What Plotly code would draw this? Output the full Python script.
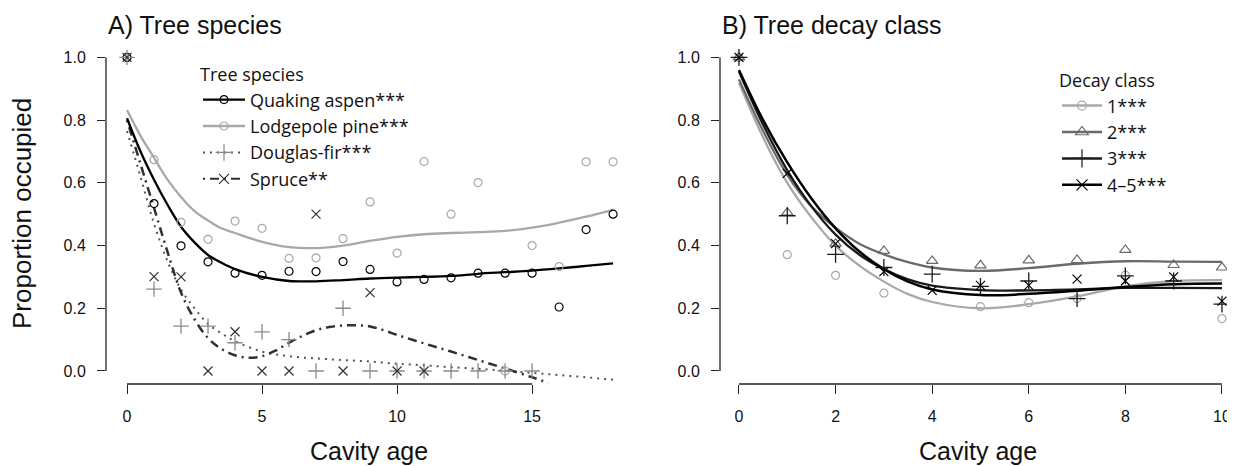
import plotly.graph_objects as go

# page shows the figure with an 8px body margin: size figure so it fills the window
OFF = 8
W, H = 1235 - OFF, 466 - OFF

# ---------------- Panel A data (tree species) ----------------
age_a = list(range(0, 19))
aspen_pts = [1.0, 0.534, 0.399, 0.348, 0.312, 0.305, 0.318, 0.317, 0.349, 0.324,
             0.284, 0.292, 0.297, 0.312, 0.312, 0.312, 0.204, 0.451, 0.500]
pine_pts = [1.0, 0.674, 0.474, 0.420, 0.478, 0.455, 0.359, 0.361, 0.422, 0.539,
            0.376, 0.668, 0.500, 0.601, 0.0, 0.400, 0.333, 0.667, 0.667]
fir_age = [0, 1, 2, 3, 4, 5, 6, 7, 8, 9, 10, 11, 12, 13, 14, 15]
fir_pts = [1.0, 0.261, 0.143, 0.143, 0.09, 0.125, 0.100, 0.0, 0.200, 0.0,
           0.0, 0.0, 0.0, 0.0, 0.0, 0.0]
spruce_age = [0, 1, 2, 3, 4, 5, 6, 7, 8, 9, 10, 11]
spruce_pts = [1.0, 0.301, 0.300, 0.0, 0.125, 0.0, 0.0, 0.500, 0.0, 0.250, 0.0, 0.0]

curve_age_a = [0, 0.5, 1, 1.5, 2, 2.5, 3, 3.5, 4, 5, 6, 7, 8, 9, 10, 11, 12, 13, 14, 15, 16, 17, 18]
aspen_fit = [0.806, 0.70, 0.61, 0.53, 0.46, 0.41, 0.37, 0.345, 0.325, 0.300, 0.287, 0.286,
             0.290, 0.295, 0.298, 0.300, 0.303, 0.310, 0.315, 0.320, 0.327, 0.335, 0.343]
pine_fit = [0.832, 0.75, 0.68, 0.61, 0.555, 0.51, 0.48, 0.455, 0.44, 0.412, 0.395, 0.392,
            0.400, 0.415, 0.428, 0.436, 0.440, 0.443, 0.447, 0.457, 0.473, 0.492, 0.514]
fir_fit = [0.765, 0.62, 0.47, 0.35, 0.26, 0.20, 0.15, 0.12, 0.095, 0.062, 0.047, 0.040,
           0.035, 0.030, 0.023, 0.018, 0.012, 0.007, 0.001, -0.006, -0.013, -0.020, -0.028]
spruce_fit_age = [0, 0.5, 1, 1.5, 2, 2.5, 3, 3.5, 4, 4.5, 5, 5.5, 6, 6.5, 7, 7.5, 8, 8.5,
                  9, 9.5, 10, 11, 12, 13, 14, 15, 15.6]
spruce_fit = [0.80, 0.66, 0.52, 0.38, 0.25, 0.165, 0.105, 0.07, 0.05, 0.042, 0.047, 0.065,
              0.09, 0.112, 0.130, 0.140, 0.145, 0.146, 0.142, 0.130, 0.115, 0.088, 0.062,
              0.035, 0.008, -0.020, -0.038]

# ---------------- Panel B data (decay class) ----------------
age_b = list(range(0, 11))
dc1_age = [0, 1, 2, 3, 5, 6, 7, 8, 10]
dc1_pts = [1.0, 0.371, 0.305, 0.248, 0.205, 0.218, 0.231, 0.306, 0.167]
dc2_pts = [1.0, 0.505, 0.406, 0.383, 0.351, 0.337, 0.353, 0.354, 0.386, 0.338, 0.330]
dc3_pts = [1.0, 0.495, 0.372, 0.330, 0.309, 0.270, 0.287, 0.231, 0.303, 0.287, 0.213]
dc45_pts = [1.0, 0.630, 0.406, 0.317, 0.257, 0.273, 0.273, 0.293, 0.287, 0.300, 0.223]

curve_age_b = [0, 0.5, 1, 1.5, 2, 2.5, 3, 3.5, 4, 5, 6, 7, 8, 9, 10]
dc1_fit = [0.92, 0.745, 0.60, 0.49, 0.40, 0.335, 0.285, 0.245, 0.22, 0.200, 0.213, 0.238, 0.270, 0.287, 0.290]
dc2_fit = [0.93, 0.765, 0.625, 0.525, 0.457, 0.405, 0.372, 0.347, 0.33, 0.319, 0.328, 0.342, 0.350, 0.349, 0.348]
dc3_fit = [0.955, 0.785, 0.64, 0.525, 0.435, 0.37, 0.325, 0.292, 0.272, 0.258, 0.257, 0.260, 0.265, 0.265, 0.264]
dc45_fit = [0.96, 0.80, 0.665, 0.55, 0.455, 0.38, 0.325, 0.285, 0.26, 0.242, 0.246, 0.256, 0.268, 0.277, 0.279]

y_ticks = [0.0, 0.2, 0.4, 0.6, 0.8, 1.0]
x_ticks_a = [0, 5, 10, 15]
x_ticks_b = [0, 2, 4, 6, 8, 10]

title_a = "A) Tree species"
title_b = "B) Tree decay class"
y_title = "Proportion occupied"
x_title = "Cavity age"

legend_a_title = "Tree species"
legend_b_title = "Decay class"

# ---------------- styles ----------------
BLACK = "#000000"
LGRAY = "#a8a8a8"
MGRAY = "#8a8a8a"
DGRAY = "#6a6a6a"
DARK = "#303030"
FONT = "Liberation Sans, Arial, sans-serif"
LFONT = "Open Sans, Lato, sans-serif"
LSIZE = 18

fig = go.Figure()


def pts(x, y, sym, color, size, xa, ya, width=1.2):
    fig.add_trace(go.Scatter(x=x, y=y, mode="markers", xaxis=xa, yaxis=ya, showlegend=False,
                             marker=dict(symbol=sym, size=size, color=color,
                                         line=dict(color=color, width=width)),
                             hoverinfo="skip"))


def fit(x, y, color, width, dash, xa, ya):
    fig.add_trace(go.Scatter(x=x, y=y, mode="lines", xaxis=xa, yaxis=ya, showlegend=False,
                             line=dict(color=color, width=width, dash=dash, shape="spline",
                                       smoothing=1.0),
                             hoverinfo="skip"))


def leg(name, sym, mcolor, size, lcolor, width, dash, legend, group):
    fig.add_trace(go.Scatter(x=[None], y=[None], mode="lines+markers", name=name,
                             legend=legend, legendgroup=group, showlegend=True,
                             xaxis="x" if legend == "legend" else "x2",
                             yaxis="y" if legend == "legend" else "y2",
                             marker=dict(symbol=sym, size=size, color=mcolor,
                                         line=dict(color=mcolor, width=1.2)),
                             line=dict(color=lcolor, width=width, dash=dash)))


DOT = "2px,5px"
DASHDOT = "2px,5px,9px,5px"

# Panel A
fit(curve_age_a, fir_fit, "#555555", 2.0, DOT, "x", "y")
fit(spruce_fit_age, spruce_fit, DARK, 2.5, DASHDOT, "x", "y")
fit(curve_age_a, pine_fit, LGRAY, 2.3, "solid", "x", "y")
fit(curve_age_a, aspen_fit, BLACK, 2.3, "solid", "x", "y")
pts(age_a, pine_pts, "circle-open", LGRAY, 8, "x", "y")
pts(age_a, aspen_pts, "circle-open", BLACK, 8, "x", "y")
pts(fir_age, fir_pts, "cross-thin-open", MGRAY, 11, "x", "y", 1.3)
pts(spruce_age, spruce_pts, "x-thin-open", DARK, 9, "x", "y", 1.2)

leg("Quaking aspen***", "circle-open", BLACK, 8, BLACK, 2.3, "solid", "legend", "a1")
leg("Lodgepole pine***", "circle-open", LGRAY, 8, LGRAY, 2.3, "solid", "legend", "a2")
leg("Douglas-fir***", "cross-thin-open", MGRAY, 12, "#555555", 2.0, DOT, "legend", "a3")
leg("Spruce**", "x-thin-open", DARK, 10, DARK, 2.0, DASHDOT, "legend", "a4")

# Panel B
fit(curve_age_b, dc1_fit, LGRAY, 2.3, "solid", "x2", "y2")
fit(curve_age_b, dc2_fit, DGRAY, 2.3, "solid", "x2", "y2")
fit(curve_age_b, dc3_fit, "#1a1a1a", 2.3, "solid", "x2", "y2")
fit(curve_age_b, dc45_fit, BLACK, 2.5, "solid", "x2", "y2")
pts(dc1_age, dc1_pts, "circle-open", LGRAY, 8, "x2", "y2")
pts(age_b, dc2_pts, "triangle-up-open", DGRAY, 10, "x2", "y2")
pts(age_b, dc3_pts, "cross-thin-open", "#1a1a1a", 12, "x2", "y2", 1.3)
pts(age_b, dc45_pts, "x-thin-open", BLACK, 9, "x2", "y2", 1.2)

leg("1***", "circle-open", LGRAY, 9, LGRAY, 2.5, "solid", "legend2", "b1")
leg("2***", "triangle-up-open", DGRAY, 11, DGRAY, 2.5, "solid", "legend2", "b2")
leg("3***", "cross-thin-open", "#1a1a1a", 13, "#1a1a1a", 2.5, "solid", "legend2", "b3")
leg("4–5***", "x-thin-open", BLACK, 11, BLACK, 2.5, "solid", "legend2", "b4")


# ---------------- layout (positions given in window pixels) ----------------
def px_x(p):
    return (p - OFF) / W


def px_y(p):
    return 1 - (p - OFF) / H


dom_y = [px_y(384), px_y(45.5)]
ax_common = dict(showgrid=False, zeroline=False, showline=False, ticks="outside",
                 tickcolor="#222222", tickwidth=1,
                 tickfont=dict(family=FONT, size=16, color="#111111"))

fig.update_layout(
    width=W, height=H, margin=dict(l=0, r=0, t=0, b=0),
    paper_bgcolor="white", plot_bgcolor="white",
    xaxis=dict(domain=[px_x(106), px_x(632)], range=[-0.778, 18.70], tickvals=x_ticks_a,
               ticklen=9, ticklabelstandoff=9, anchor="y", **ax_common),
    yaxis=dict(domain=dom_y, range=[-0.0415, 1.038], tickvals=y_ticks, tickformat=".1f",
               ticklen=8, ticklabelstandoff=8, anchor="x", **ax_common),
    xaxis2=dict(domain=[px_x(720), 1.0], range=[-0.393, 10.27], tickvals=x_ticks_b,
                ticklen=9, ticklabelstandoff=9, anchor="y2", **ax_common),
    yaxis2=dict(domain=dom_y, range=[-0.0415, 1.038], tickvals=y_ticks, tickformat=".1f",
                ticklen=8, ticklabelstandoff=8, anchor="x2", **ax_common),
    legend=dict(x=px_x(198), y=px_y(58), xanchor="left", yanchor="top",
                bgcolor="rgba(0,0,0,0)", itemwidth=42, tracegroupgap=0,
                font=dict(family=LFONT, size=LSIZE, color="#111111"),
                title=dict(text=legend_a_title, font=dict(family=LFONT, size=LSIZE, color="#111111"))),
    legend2=dict(x=px_x(1057), y=px_y(64), xanchor="left", yanchor="top",
                 bgcolor="rgba(0,0,0,0)", itemwidth=40, tracegroupgap=0,
                 font=dict(family=LFONT, size=LSIZE, color="#111111"),
                 title=dict(text=legend_b_title, font=dict(family=LFONT, size=LSIZE, color="#111111"))),
)

annos = [
    dict(text=title_a, xref="x domain", x=0.0, xanchor="left", yref="paper", y=px_y(25),
         yanchor="middle", showarrow=False, font=dict(family=FONT, size=25, color="#111111")),
    dict(text=title_b, xref="x2 domain", x=0.0, xanchor="left", yref="paper", y=px_y(25),
         yanchor="middle", showarrow=False, font=dict(family=FONT, size=25, color="#111111")),
    dict(text=y_title, xref="paper", x=px_x(22), xanchor="center", yref="paper", y=px_y(214),
         yanchor="middle", textangle=-90, showarrow=False,
         font=dict(family=FONT, size=26, color="#111111")),
    dict(text=x_title, xref="x domain", x=0.5, xanchor="center", yref="paper", y=px_y(451),
         yanchor="middle", showarrow=False, font=dict(family=FONT, size=25, color="#111111")),
    dict(text=x_title, xref="x2 domain", x=0.5, xanchor="center", yref="paper", y=px_y(451),
         yanchor="middle", showarrow=False, font=dict(family=FONT, size=25, color="#111111")),
]
fig.update_layout(annotations=annos)

# R-style detached axis lines spanning the tick range
shapes = []
for xa, ya, xt in (("x", "y", x_ticks_a), ("x2", "y2", x_ticks_b)):
    shapes.append(dict(type="line", xref=xa, yref=ya + " domain", x0=min(xt), x1=max(xt),
                       y0=0, y1=0, line=dict(color="#222222", width=1.3)))
    shapes.append(dict(type="line", xref=xa + " domain", yref=ya, x0=0, x1=0,
                       y0=min(y_ticks), y1=max(y_ticks), line=dict(color="#222222", width=1.3)))
fig.update_layout(shapes=shapes)

fig.write_html("out.html")
